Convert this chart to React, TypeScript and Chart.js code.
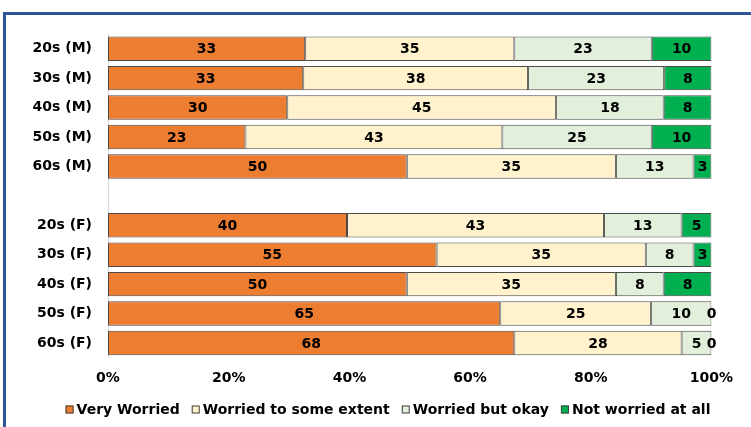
import React, { useEffect, useRef } from "react";
import { Chart, registerables } from "chart.js";

Chart.register(...registerables);

const categories = [
  "20s (M)", "30s (M)", "40s (M)", "50s (M)", "60s (M)", "",
  "20s (F)", "30s (F)", "40s (F)", "50s (F)", "60s (F)",
];
const seriesNames = ["Very Worried", "Worried to some extent", "Worried but okay", "Not worried at all"];
const veryWorried = [33, 33, 30, 23, 50, null, 40, 55, 50, 65, 68];
const someExtent = [35, 38, 45, 43, 35, null, 43, 35, 35, 25, 28];
const butOkay = [23, 23, 18, 25, 13, null, 13, 8, 8, 10, 5];
const notWorried = [10, 8, 8, 10, 3, null, 5, 3, 8, 0, 0];
const xTicks = [0, 20, 40, 60, 80, 100];

const colors = ["#ED7D31", "#FFF2CC", "#E2EFDA", "#00B050"];
const FONT = "'DejaVu Sans', Verdana, sans-serif";

const labelPlugin = {
  id: "segLabels",
  afterDatasetsDraw(chart: any) {
    const ctx = chart.ctx;
    ctx.save();
    ctx.font = `bold 14px ${FONT}`;
    ctx.fillStyle = "#000";
    ctx.textAlign = "center";
    ctx.textBaseline = "middle";
    chart.data.datasets.forEach((ds: any, di: number) => {
      const meta = chart.getDatasetMeta(di);
      meta.data.forEach((el: any, i: number) => {
        const raw = ds.rawValues[i];
        if (raw === null || raw === undefined) return;
        const cx = (el.x + el.base) / 2;
        ctx.fillText(String(raw), cx, el.y + 1);
      });
    });
    ctx.restore();
  },
};

const legendPlugin = {
  id: "customLegend",
  afterDraw(chart: any) {
    const ctx = chart.ctx;
    ctx.save();
    ctx.font = `bold 14px ${FONT}`;
    const box = 8;
    const gapText = 3;
    const gapItem = 12;
    const items = chart.data.datasets.map((ds: any) => ({
      text: ds.label,
      color: ds.backgroundColor,
      w: ctx.measureText(ds.label).width,
    }));
    const total = items.reduce((s: number, it: any) => s + box + gapText + it.w, 0) + gapItem * (items.length - 1);
    let x = 388 - total / 2;
    const cy = 409.5;
    ctx.textBaseline = "middle";
    ctx.textAlign = "left";
    items.forEach((it: any) => {
      ctx.fillStyle = it.color;
      ctx.fillRect(x, cy - box / 2, box, box);
      ctx.strokeStyle = "#404040";
      ctx.lineWidth = 1;
      ctx.strokeRect(x + 0.5, cy - box / 2 + 0.5, box - 1, box - 1);
      ctx.fillStyle = "#000";
      ctx.fillText(it.text, x + box + gapText, cy + 1);
      x += box + gapText + it.w + gapItem;
    });
    ctx.restore();
  },
};

export default function App() {
  const ref = useRef<HTMLCanvasElement | null>(null);

  useEffect(() => {
    if (!ref.current) return;
    const raws = [veryWorried, someExtent, butOkay, notWorried];
    const totals = categories.map((_, i) =>
      raws.reduce((s, arr) => s + (arr[i] ?? 0), 0)
    );
    const datasets = raws.map((arr, k) => ({
      label: seriesNames[k],
      data: arr.map((v, i) => (v === null ? null : (v / totals[i]) * 100)),
      rawValues: arr,
      backgroundColor: colors[k],
      borderColor: "#4a4a4a",
      borderWidth: 1,
      borderSkipped: false,
      categoryPercentage: 1,
      barPercentage: 0.83,
    }));
    const chart = new Chart(ref.current, {
      type: "bar",
      data: { labels: categories, datasets: datasets as any },
      plugins: [labelPlugin, legendPlugin],
      options: {
        indexAxis: "y",
        animation: false,
        responsive: false,
        maintainAspectRatio: false,
        layout: { padding: { top: 34, right: 39.5, left: 0, bottom: 0 } },
        plugins: {
          legend: { display: false },
          tooltip: { enabled: false },
          title: { display: false },
        },
        scales: {
          x: {
            stacked: true,
            min: 0,
            max: 100,
            afterBuildTicks: (scale: any) => {
              scale.ticks = xTicks.map((v) => ({ value: v }));
            },
            afterFit: (scale: any) => {
              scale.height = 69.3;
            },
            grid: { display: false, drawTicks: false },
            border: { display: false },
            ticks: {
              padding: 12,
              color: "#000",
              font: { family: FONT, size: 14, weight: "bold" },
              callback: (v: any) => `${v}%`,
              maxRotation: 0,
            },
          },
          y: {
            stacked: true,
            afterFit: (scale: any) => {
              scale.width = 108;
            },
            grid: { display: false, drawTicks: false },
            border: { display: true, color: "#D9D9D9", width: 1 },
            ticks: {
              padding: 16,
              color: "#000",
              autoSkip: false,
              font: { family: FONT, size: 14, weight: "bold" },
            },
          },
        },
      } as any,
    });
    return () => chart.destroy();
  }, []);

  return (
    <div
      style={{
        position: "fixed",
        left: 0,
        top: 0,
        width: 751,
        height: 427,
        overflow: "hidden",
        background: "#fff",
      }}
    >
      <div
        style={{
          position: "absolute",
          left: 3,
          top: 12,
          width: 1000,
          height: 1000,
          borderLeft: "3px solid #2F5597",
          borderTop: "3px solid #2F5597",
        }}
      />
      <canvas
        ref={ref}
        width={751}
        height={427}
        style={{ position: "absolute", left: 0, top: 0, width: 751, height: 427 }}
      />
    </div>
  );
}
